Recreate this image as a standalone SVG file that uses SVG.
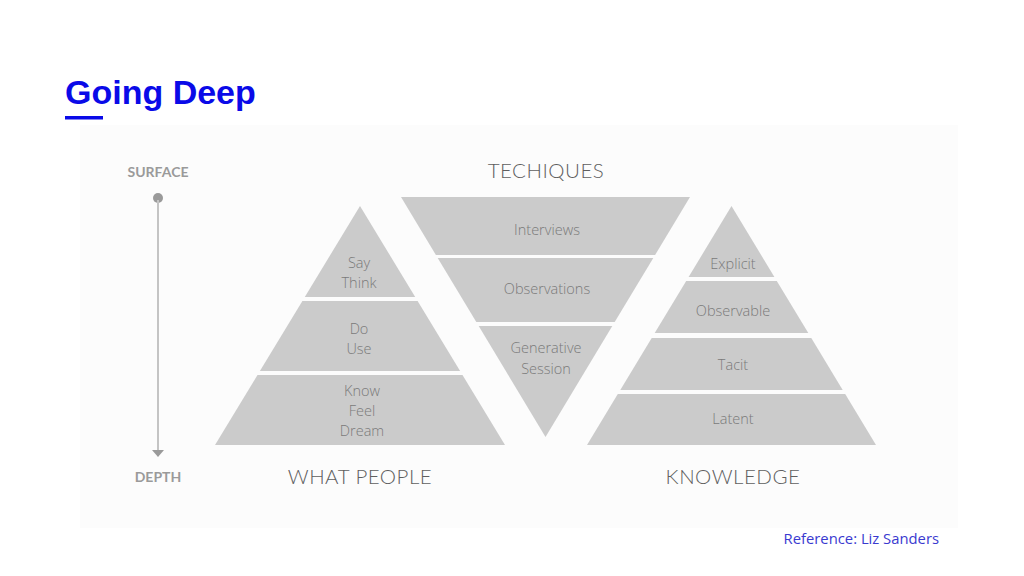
<svg xmlns="http://www.w3.org/2000/svg" width="1024" height="576" viewBox="0 0 1024 576">
<style>
.band{fill:#cbcbcb}
.lbl{font-family:"Open Sans","Noto Sans",sans-serif;font-weight:300;font-size:14.5px;fill:#7a7a7a;text-anchor:middle}
.hdr{font-family:Lato,"Open Sans",sans-serif;font-weight:300;font-size:20.5px;fill:#5f5f5f;text-anchor:middle;letter-spacing:0.5px}
.side{font-family:Lato,"Open Sans",sans-serif;font-weight:700;font-size:14px;fill:#9a9a9a;text-anchor:middle}
</style>
<defs>
<marker id="arr" markerWidth="8" markerHeight="12" refX="0" refY="0" orient="auto" markerUnits="userSpaceOnUse" viewBox="0 -6 8 12">
<path d="M0,-6 L7,0 L0,6 Z" fill="#9a9a9a"/>
</marker>
</defs>
<rect width="1024" height="576" fill="#ffffff"/>
<rect x="80" y="125" width="878" height="403" fill="#fcfcfc"/>
<g id="title">
<text x="65" y="104" font-family="Liberation Sans,Arial,sans-serif" font-weight="700" font-size="34" fill="#0a0ae8">Going Deep</text>
<rect x="65" y="116" width="38" height="3.5" fill="#0a0ae8"/>
</g>
<g id="axis">
<text class="side" x="158" y="177">SURFACE</text>
<circle cx="158" cy="198" r="5" fill="#9a9a9a"/>
<line x1="158" y1="200" x2="158" y2="450" stroke="#c4c4c4" stroke-width="2" marker-end="url(#arr)"/>
<text class="side" x="158" y="482">DEPTH</text>
</g>
<g id="what-people">
<polygon class="band" points="360,206 415.2,297 304.8,297"/>
<polygon class="band" points="302.4,301 417.6,301 460.1,371 259.9,371"/>
<polygon class="band" points="257.5,375 462.5,375 505,445 215,445"/>
<text class="lbl" x="359" y="268">Say</text>
<text class="lbl" x="359" y="288">Think</text>
<text class="lbl" x="359" y="334">Do</text>
<text class="lbl" x="359" y="354">Use</text>
<text class="lbl" x="362" y="396">Know</text>
<text class="lbl" x="362" y="416">Feel</text>
<text class="lbl" x="362" y="436">Dream</text>
<text class="hdr" x="360" y="484">WHAT PEOPLE</text>
</g>
<g id="techniques">
<text class="hdr" x="546" y="178">TECHIQUES</text>
<polygon class="band" points="401,197 690,197 655.1,255 435.9,255"/>
<polygon class="band" points="437.7,258 653.3,258 614.7,322 476.3,322"/>
<polygon class="band" points="478.7,326 612.3,326 545.5,437"/>
<text class="lbl" x="547" y="235">Interviews</text>
<text class="lbl" x="547" y="294">Observations</text>
<text class="lbl" x="546" y="353">Generative</text>
<text class="lbl" x="546" y="374">Session</text>
</g>
<g id="knowledge">
<polygon class="band" points="731.5,206 774.4,277 688.6,277"/>
<polygon class="band" points="686.2,281 776.8,281 808.3,333 654.7,333"/>
<polygon class="band" points="651.7,338 811.3,338 842.7,390 620.3,390"/>
<polygon class="band" points="617.8,394 845.2,394 876,445 587,445"/>
<text class="lbl" x="733" y="269">Explicit</text>
<text class="lbl" x="733" y="316">Observable</text>
<text class="lbl" x="733" y="370">Tacit</text>
<text class="lbl" x="733" y="424">Latent</text>
<text class="hdr" x="733" y="484">KNOWLEDGE</text>
</g>
<g id="connectors"></g>
<text x="939" y="544" text-anchor="end" font-family="Open Sans,Noto Sans,sans-serif" font-size="14.8" fill="#3a3ad0">Reference: Liz Sanders</text>
</svg>
